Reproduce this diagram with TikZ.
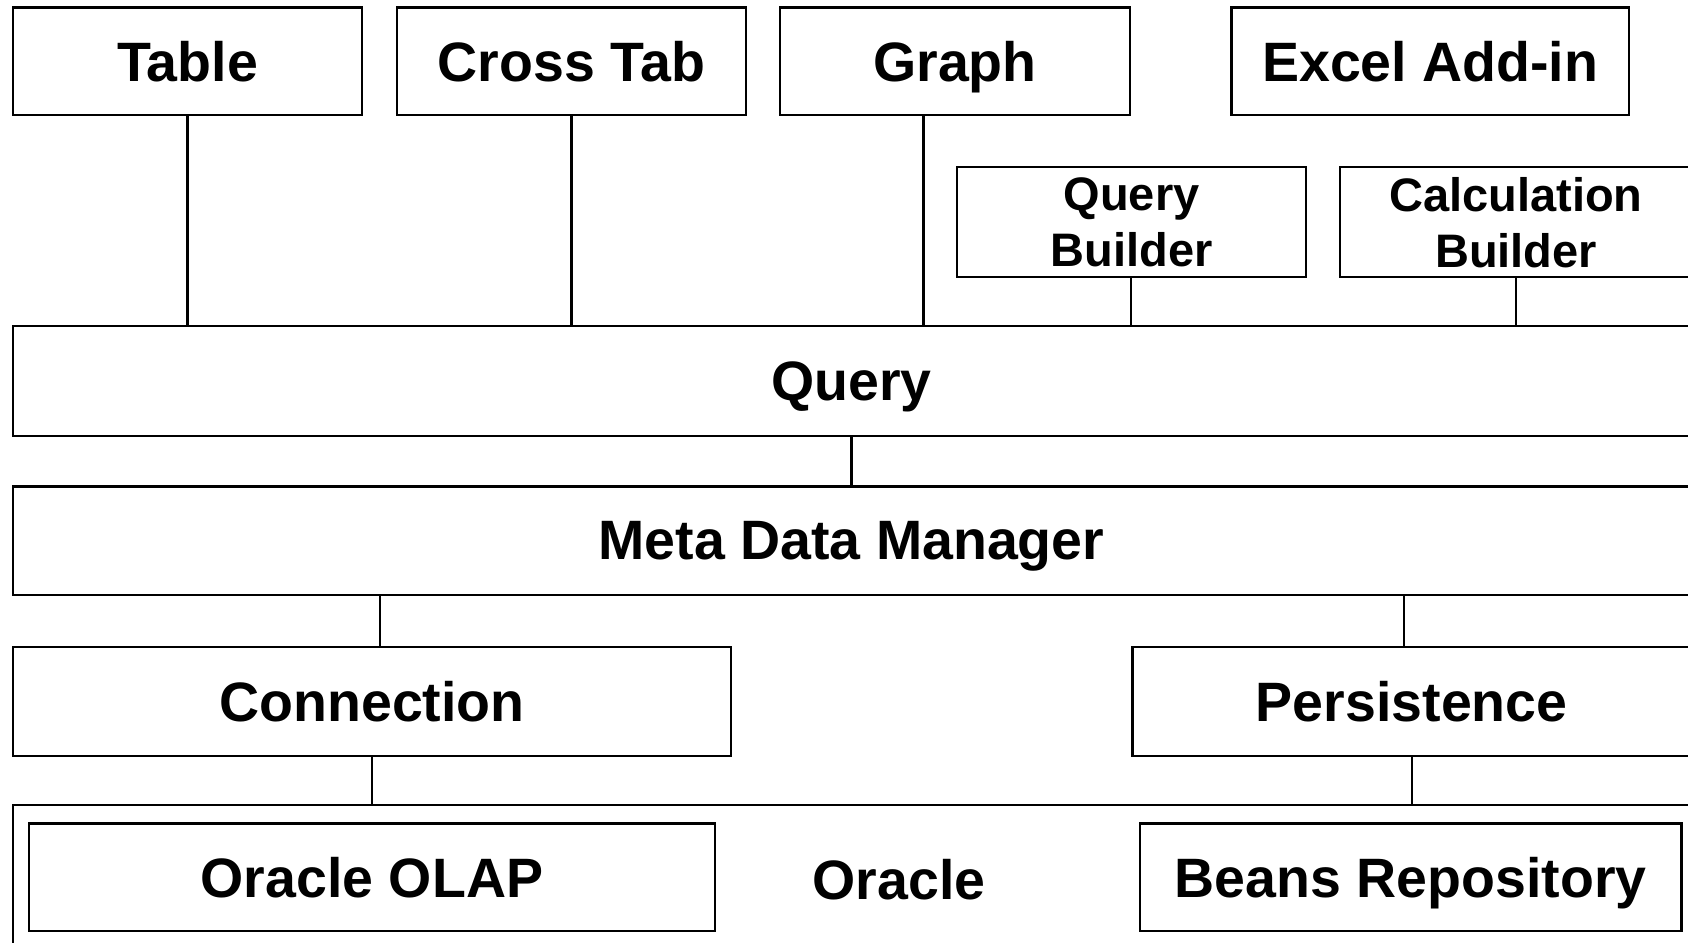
\documentclass[tikz,border=0pt]{standalone}
\usepackage{fontspec}
\setmainfont{Liberation Sans}
\begin{document}
\begin{tikzpicture}[x=1pt,y=-1pt,
  box/.style={draw, line width=2.3pt, rectangle, inner sep=0pt, text depth=0pt,
    font=\fontsize{55.5pt}{60pt}\selectfont\bfseries},
  smallbox/.style={box, align=center, font=\fontsize{47pt}{56pt}\selectfont\bfseries},
  link/.style={line width=2.3pt},
  lbl/.style={inner sep=0pt, text depth=0pt, font=\fontsize{55.5pt}{60pt}\selectfont\bfseries}]
\useasboundingbox (0,0) rectangle (1688,942);
\clip (0,0) rectangle (1688,942);
% top row
\node[box, minimum width=349pt, minimum height=107.5pt] (table) at (187.5,61.25) {Table};
\node[box, minimum width=349pt, minimum height=107.5pt] (cross) at (571.5,61.25) {Cross Tab};
\node[box, minimum width=350pt, minimum height=107.5pt] (graph) at (955,61.25) {Graph};
\node[box, minimum width=397.5pt, minimum height=107.5pt] (excel) at (1430.25,61.25) {Excel Add-in};
% builders
\node[smallbox, minimum width=349pt, minimum height=110pt] (qb) at (1131.5,222) {Query\\Builder};
\node[smallbox, minimum width=352pt, minimum height=110pt] (cb) at (1516,222) {Calculation\\Builder};
% layers
\node[box, minimum width=1677pt, minimum height=110pt] (query) at (851.5,381) {Query};
\node[box, minimum width=1677pt, minimum height=108.5pt] (mdm) at (851.5,540.75) {Meta Data Manager};
\node[box, minimum width=718pt, minimum height=109pt] (conn) at (372,701.5) {Connection};
\node[box, minimum width=558.5pt, minimum height=109pt] (pers) at (1411.75,701.5) {Persistence};
% oracle
\node[draw, line width=2.3pt, rectangle, inner sep=0pt, minimum width=1687pt, minimum height=155pt] (oracle) at (856.5,882.5) {};
\node[lbl] (oraclelbl) at (899,879.5) {Oracle};
\node[box, minimum width=686pt, minimum height=107.5pt] (olap) at (372,877.25) {Oracle OLAP};
\node[box, minimum width=541.5pt, minimum height=107.5pt] (beans) at (1410.75,877.25) {Beans Repository};
% connector x positions
\coordinate (gx) at (923.6,0);
\coordinate (mcx) at (380,0);
\coordinate (mpx) at (1404,0);
\coordinate (qbx) at (1131,0);
\coordinate (cbx) at (1515.7,0);
% connectors
\draw[link] (table.south) -- (table.south |- query.north);
\draw[link] (cross.south) -- (cross.south |- query.north);
\draw[link] (gx |- graph.south) -- (gx |- query.north);
\draw[link] (qbx |- qb.south) -- (qbx |- query.north);
\draw[link] (cbx |- cb.south) -- (cbx |- query.north);
\draw[link] (query.south) -- (mdm.north);
\draw[link] (mcx |- mdm.south) -- (mcx |- conn.north);
\draw[link] (mpx |- mdm.south) -- (mpx |- pers.north);
\draw[link] (conn.south) -- (conn.south |- oracle.north);
\draw[link] (pers.south) -- (pers.south |- oracle.north);
\end{tikzpicture}
\end{document}
